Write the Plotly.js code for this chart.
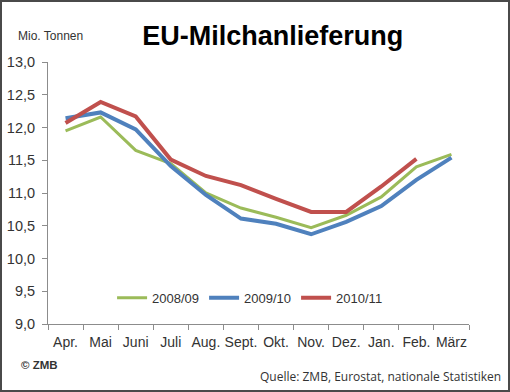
<!DOCTYPE html>
<html><head><meta charset="utf-8">
<script src="https://cdn.plot.ly/plotly-3.0.1.min.js"></script>
<style>
html,body{margin:0;padding:0;background:#fff;}
#wrap{position:relative;width:510px;height:392px;box-sizing:border-box;border:2px solid #4a4a4a;overflow:hidden;}
#chart{position:absolute;left:-2px;top:-2px;width:510px;height:392px;}
</style></head>
<body><div id="wrap"><div id="chart"></div></div>
<script>
var months = ["Apr.","Mai","Juni","Juli","Aug.","Sept.","Okt.","Nov.","Dez.","Jan.","Feb.","März"];
var s0809 = [11.95,12.16,11.65,11.45,11.00,10.77,10.63,10.47,10.66,10.94,11.40,11.59];
var s0910 = [12.14,12.23,11.97,11.41,10.97,10.61,10.53,10.37,10.56,10.80,11.20,11.54];
var s1011 = [12.07,12.39,12.17,11.51,11.26,11.12,10.91,10.71,10.71,11.10,11.52];
var names = ["2008/09","2009/10","2010/11"];
var colors = ["#9bbb59","#4f81bd","#c0504d"];
var widths = [3,4,4];
var series = [s0809,s0910,s1011];
var traces = series.map(function(s,i){
  return {x: months.slice(0,s.length), y: s, type:"scatter", mode:"lines", name:names[i],
    line:{color:colors[i], width:widths[i]}};
});
var layout = {
  width:510, height:392,
  margin:{l:48, r:41, t:62, b:68},
  paper_bgcolor:"#fff", plot_bgcolor:"#fff",
  separators:",.",
  font:{family:"Liberation Sans, Arial, sans-serif", color:"#333", size:13},
  title:{text:"<b>EU-Milchanlieferung</b>", font:{size:27, color:"#000", family:"Liberation Sans, Arial, sans-serif"}, x:0.535, xanchor:"center", y:0.91, yanchor:"middle"},
  showlegend:true,
  legend:{orientation:"h", x:0.48, xanchor:"center", y:0.1, yanchor:"middle", bgcolor:"rgba(0,0,0,0)", font:{size:13, color:"#333"}, itemwidth:30, tracegroupgap:0},
  xaxis:{type:"category", range:[-0.5,11.5], showgrid:false, zeroline:false, showline:true, linecolor:"#8c8c8c", linewidth:1,
    ticks:"outside", tickson:"boundaries", ticklen:5, tickcolor:"#8c8c8c", tickangle:0, ticklabelstandoff:5, tickfont:{size:14, color:"#333"}, fixedrange:true},
  yaxis:{range:[9,13], dtick:0.5, tickformat:".1f", showgrid:false, zeroline:false, showline:true, linecolor:"#8c8c8c", linewidth:1,
    ticks:"outside", ticklen:5, tickcolor:"#8c8c8c", ticklabelstandoff:4, tickfont:{size:14.5, color:"#333"}, fixedrange:true},
  annotations:[
    {text:"Mio. Tonnen", xref:"paper", yref:"paper", x:-0.075, y:1.1, xanchor:"left", yanchor:"middle", showarrow:false, font:{size:12, color:"#333"}},
    {text:"<b>© ZMB</b>", xref:"paper", yref:"paper", x:-0.068, y:-0.155, xanchor:"left", yanchor:"middle", showarrow:false, font:{size:11.5, color:"#333"}},
    {text:"Quelle: ZMB, Eurostat, nationale Statistiken", xref:"paper", yref:"paper", x:1.08, y:-0.2, xanchor:"right", yanchor:"middle", showarrow:false, font:{size:12, color:"#333", family:"Open Sans, sans-serif"}}
  ]
};
Plotly.newPlot("chart", traces, layout, {displayModeBar:false, staticPlot:true});
</script></body></html>
